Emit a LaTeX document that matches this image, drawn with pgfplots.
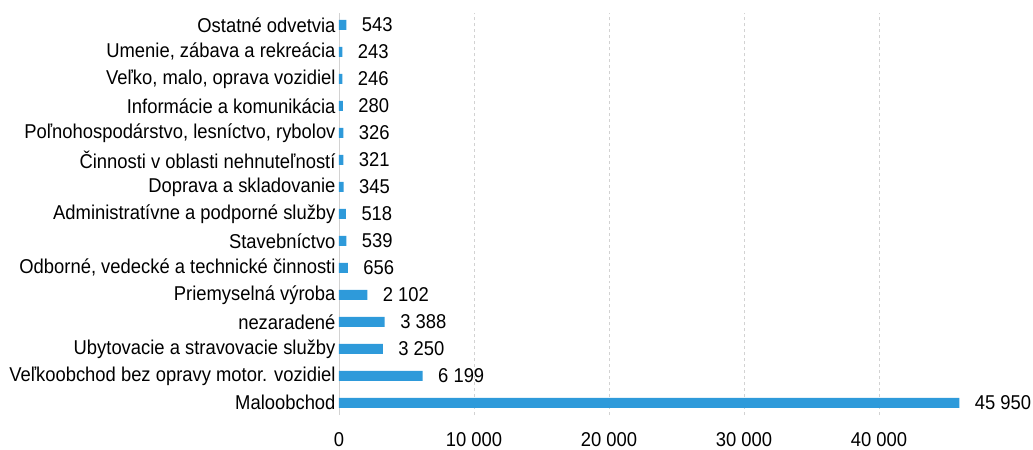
\documentclass[border=0pt]{standalone}
\usepackage{pgfplots}
\pgfplotsset{compat=1.18}
\usepackage{fontspec}
\setmainfont{Liberation Sans}[FakeStretch=0.92]
\definecolor{barblue}{RGB}{46,154,218}
\definecolor{gridgray}{RGB}{210,210,210}
\newcommand{\lblfont}{\fontsize{20bp}{23bp}\selectfont}
\begin{document}
\begin{tikzpicture}
\path[use as bounding box] (0,0) rectangle (1033bp,450bp);
\begin{axis}[
  at={(339bp,35bp)}, anchor=south west,
  scale only axis, width=648bp, height=402.3bp,
  xmin=0, xmax=48000, ymin=-0.45, ymax=14.45,
  xbar, bar width=10bp,
  axis lines=left, axis line style={-},
  x axis line style={draw=none},
  y axis line style={draw=gridgray, line width=0.8pt},
  xmajorgrids, grid style={dashed, gridgray, line width=0.8pt},
  major tick length=0pt,
  scaled x ticks=false,
  xtick={0,10000,20000,30000,40000},
  ytick={0,...,14},
  yticklabels={Maloobchod,{Veľkoobchod bez opravy motor. vozidiel},{Ubytovacie a stravovacie služby},nezaradené,{Priemyselná výroba},{Odborné, vedecké a technické činnosti},Stavebníctvo,{Administratívne a podporné služby},{Doprava a skladovanie},{Činnosti v oblasti nehnuteľností},{Poľnohospodárstvo, lesníctvo, rybolov},{Informácie a komunikácia},{Veľko, malo, oprava vozidiel},{Umenie, zábava a rekreácia},{Ostatné odvetvia}},
  ticklabel style={font=\lblfont},
  xticklabel style={yshift=-14bp},
  /pgf/number format/assume math mode=true,
  /pgf/number format/1000 sep={\ },
  /pgf/number format/fixed, /pgf/number format/precision=0,
  nodes near coords,
  nodes near coords style={font=\lblfont, anchor=west, xshift=12bp, /pgf/number format/1000 sep={\ }, /pgf/number format/assume math mode=true},
  clip=false,
]
\addplot[fill=barblue, draw=none] coordinates {
(45950,0) (6199,1) (3250,2) (3388,3) (2102,4) (656,5) (539,6) (518,7) (345,8) (321,9) (326,10) (280,11) (246,12) (243,13) (543,14)
};
\end{axis}
\end{tikzpicture}
\end{document}
